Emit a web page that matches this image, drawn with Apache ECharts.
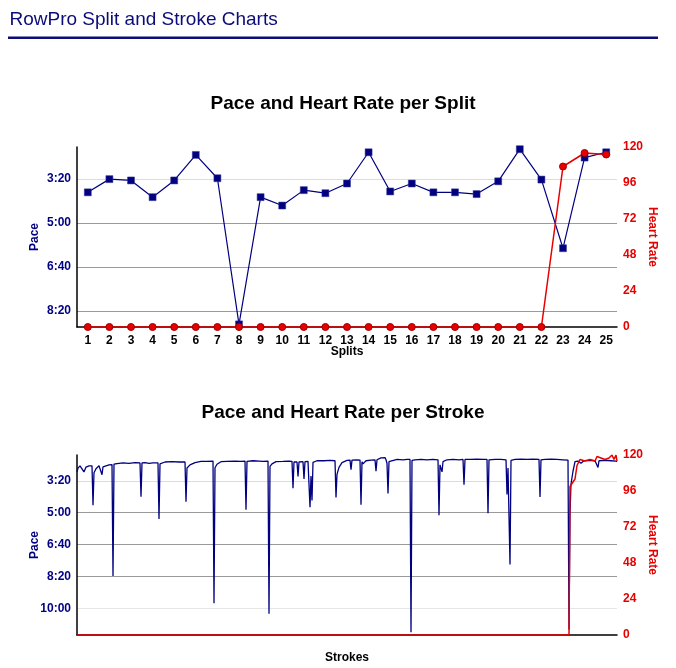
<!DOCTYPE html>
<html><head><meta charset="utf-8">
<script src="https://cdn.jsdelivr.net/npm/echarts@6/dist/echarts.min.js"></script>
<style>html,body{margin:0;padding:0;background:#fff}#c{width:676px;height:668px}</style>
</head><body><div id="c"></div>
<script>
// ---- data ----
const splitCategories = ['1','2','3','4','5','6','7','8','9','10','11','12','13','14','15','16','17','18','19','20','21','22','23','24','25'];
// pace in seconds per 500m
const splitPace = [230,200,203,241,203,145,198,530,241,260,225,232,210,139,228,210,230,230,234,205,132,201,357,151,139];
const splitHR = [0,0,0,0,0,0,0,0,0,0,0,0,0,0,0,0,0,0,0,0,0,0,107,116,115];
// [stroke, pace seconds]
const strokePace = [[0,172],[1,160],[3,153],[5,157],[7,172],[9,157],[12,153],[15,153],[16,277],[17,175],[19,162],[22,153],[24,153],[25,181],[26,156],[28,150],[32,150],[35,149],[36,499],[37,148],[40,146],[46,144],[52,145],[58,143],[63,144],[64,250],[65,144],[68,143],[72,145],[76,144],[81,144],[82,320],[83,147],[85,145],[88,141],[95,140],[102,141],[108,141],[109,266],[110,160],[113,150],[118,143],[124,139],[130,139],[136,138],[137,584],[138,159],[140,148],[144,140],[150,139],[158,138],[164,139],[168,138],[169,291],[170,139],[176,137],[182,138],[186,139],[191,138],[192,617],[193,155],[195,147],[199,140],[206,139],[212,138],[215,139],[216,223],[217,141],[220,141],[221,186],[222,141],[226,140],[227,194],[228,140],[231,139],[233,283],[234,185],[235,262],[236,142],[240,137],[247,137],[253,136],[258,137],[259,252],[260,180],[262,158],[265,143],[270,136],[273,135],[274,165],[275,135],[280,134],[283,135],[284,275],[285,140],[286,147],[289,137],[294,135],[298,134],[299,170],[300,134],[304,128],[306,131],[308,127],[309,134],[310,145],[311,240],[312,140],[314,134],[320,133],[326,134],[330,133],[333,133],[334,675],[335,136],[338,134],[344,133],[350,134],[356,133],[361,134],[362,308],[363,150],[365,172],[366,140],[370,134],[376,133],[382,134],[386,133],[387,212],[388,133],[394,133],[400,132],[406,133],[410,133],[411,302],[412,134],[418,133],[424,133],[429,134],[430,243],[431,160],[433,463],[434,136],[438,133],[444,132],[450,133],[456,132],[462,133],[463,251],[464,134],[468,133],[474,132],[480,133],[486,134],[491,135],[492,667],[493,300],[494,210],[496,170],[498,140],[501,138],[504,145],[507,137],[512,136],[518,137],[520,136],[521,158],[522,137],[528,136],[534,137],[539,138],[540,140]];
// [stroke, heart rate]
const strokeHR = [[0,0],[492,0],[493,99],[495,101],[498,104],[500,113],[503,117],[508,116],[513,117],[518,116],[520,119],[524,118],[528,117],[532,118],[535,120],[537,117],[539,120],[540,116]];
const hrTicks = {min:0, max:120, interval:24};

// ---- chart ----
const FONT = '"Liberation Sans", Arial, Helvetica, sans-serif';
const NAVY = '#000080';
const RED = '#e60000';
function fmtPace(v){ v = Math.round(v); const m = Math.floor(v/60), s = v%60; return m + ':' + (s<10?'0':'') + s; }
const boldTxt = (c) => ({color:c, fontWeight:'bold', fontSize:12, fontFamily:FONT});

const chart = echarts.init(document.getElementById('c'));
const paceAxis = (grid, min, max, colors) => ({
  gridIndex:grid, type:'value', inverse:true, min:min, max:max, minInterval:100, maxInterval:100,
  axisLine:{show:true, onZero:false, lineStyle:{color:'#000', width:1.5}},
  axisTick:{show:false},
  axisLabel:Object.assign({formatter:fmtPace, margin:6, showMinLabel:false, showMaxLabel:false}, boldTxt(NAVY)),
  splitLine:{show:true, lineStyle:{color:colors, width:1}},
  name:'Pace', nameLocation:'middle', nameGap:36, nameMoveOverlap:false, nameTextStyle:boldTxt(NAVY)
});
const hrAxis = (grid) => ({
  gridIndex:grid, type:'value', position:'right', min:hrTicks.min, max:hrTicks.max, interval:hrTicks.interval,
  axisLine:{show:false}, axisTick:{show:false}, splitLine:{show:false},
  axisLabel:Object.assign({margin:6}, boldTxt(RED)),
  name:'Heart Rate', nameLocation:'middle', nameGap:29, nameMoveOverlap:false, nameRotate:-90, nameTextStyle:boldTxt(RED)
});
const T = 'rgba(0,0,0,0)';
chart.setOption({
  animation:false,
  backgroundColor:'#fff',
  graphic:[
    {type:'text', x:9.5, y:20, style:{text:'RowPro Split and Stroke Charts', font:'19px '+FONT, fill:'#0c0c78', align:'left', verticalAlign:'middle'}},
    {type:'rect', shape:{x:8, y:36.5, width:650, height:2.6}, style:{fill:'#0c0c78'}},
    {type:'text', x:343, y:104, style:{text:'Pace and Heart Rate per Split', font:'bold 19px '+FONT, fill:'#000', align:'center', verticalAlign:'middle'}},
    {type:'text', x:343, y:413, style:{text:'Pace and Heart Rate per Stroke', font:'bold 19px '+FONT, fill:'#000', align:'center', verticalAlign:'middle'}}
  ],
  grid:[
    {left:77, right:59, top:147, height:180},
    {left:77, right:59, top:455, height:180}
  ],
  xAxis:[
    {gridIndex:0, type:'category', data:splitCategories, boundaryGap:true,
     axisLine:{onZero:false, lineStyle:{color:'#000', width:1.5}}, axisTick:{show:false},
     axisLabel:Object.assign({margin:8, interval:0}, boldTxt('#000')),
     name:'Splits', nameLocation:'middle', nameGap:19, nameMoveOverlap:false, nameTextStyle:boldTxt('#000')},
    {gridIndex:1, type:'value', min:0, max:540,
     axisLine:{show:true, onZero:false, lineStyle:{color:'#000', width:1.5}}, axisTick:{show:false},
     axisLabel:{show:false}, splitLine:{show:false},
     name:'Strokes', nameLocation:'middle', nameGap:17, nameMoveOverlap:false, nameTextStyle:boldTxt('#000')}
  ],
  yAxis:[
    paceAxis(0, 127, 536, [T,'#dcdcdc','#9a9a9a','#9a9a9a','#9a9a9a',T]),
    hrAxis(0),
    paceAxis(1, 119, 684, [T,'#dcdcdc','#9a9a9a','#9a9a9a','#9a9a9a','#e6e6e6',T]),
    hrAxis(1)
  ],
  series:[
    {type:'line', xAxisIndex:0, yAxisIndex:0, data:splitPace, symbol:'rect', symbolSize:7,
     lineStyle:{color:NAVY, width:1.2}, itemStyle:{color:NAVY, borderColor:'#3a3a9a', borderWidth:0.5}},
    {type:'line', xAxisIndex:0, yAxisIndex:1, data:splitHR, symbol:'circle', symbolSize:7,
     lineStyle:{color:RED, width:1.5}, itemStyle:{color:RED, borderColor:'#a00000', borderWidth:1}},
    {type:'line', xAxisIndex:1, yAxisIndex:2, data:strokePace, showSymbol:false,
     lineStyle:{color:NAVY, width:1.3}},
    {type:'line', xAxisIndex:1, yAxisIndex:3, data:strokeHR, showSymbol:false,
     lineStyle:{color:RED, width:1.5}}
  ]
});
</script>
</body></html>
